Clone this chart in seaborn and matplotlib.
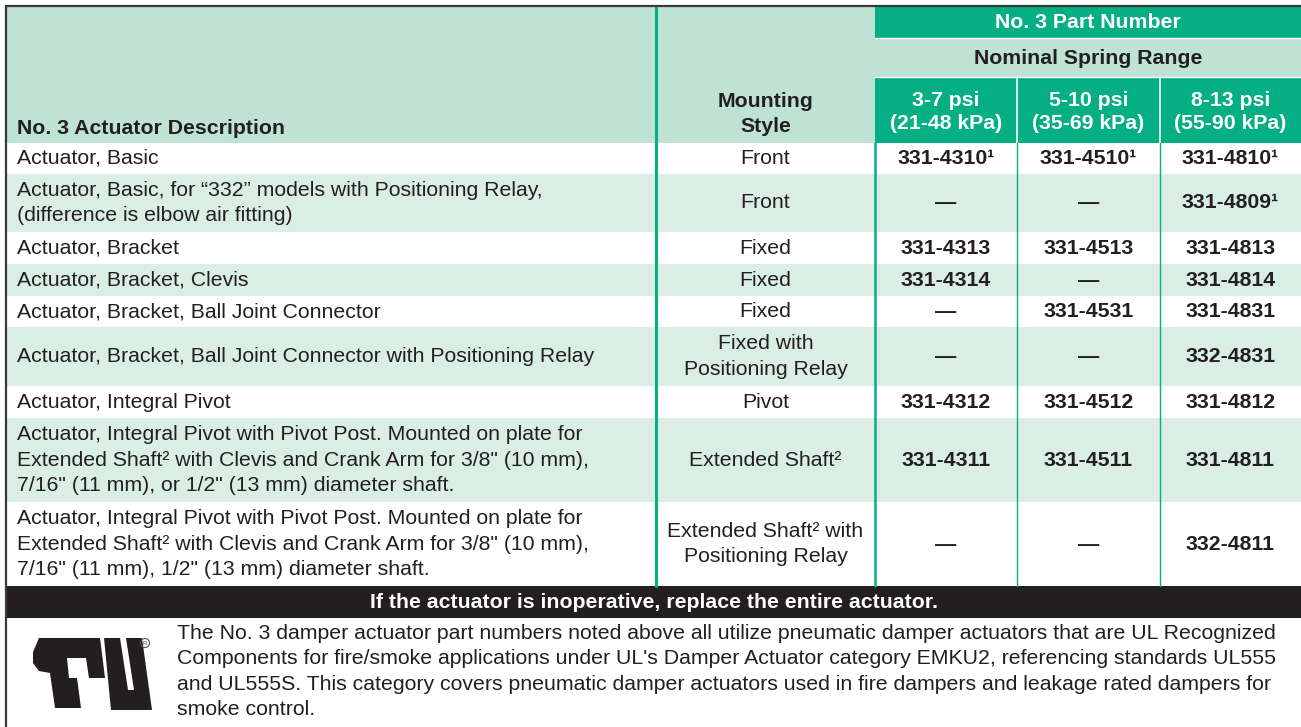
import matplotlib.pyplot as plt
import seaborn as sns
from matplotlib.patches import Rectangle, Polygon, Circle

sns.set_theme(style="white")
plt.rcParams['font.family'] = ['Liberation Sans', 'DejaVu Sans']

# table content
descriptions = [
    "Actuator, Basic",
    "Actuator, Basic, for \u201c332\u201d models with Positioning Relay,\n(difference is elbow air fitting)",
    "Actuator, Bracket",
    "Actuator, Bracket, Clevis",
    "Actuator, Bracket, Ball Joint Connector",
    "Actuator, Bracket, Ball Joint Connector with Positioning Relay",
    "Actuator, Integral Pivot",
    "Actuator, Integral Pivot with Pivot Post. Mounted on plate for\nExtended Shaft\u00b2 with Clevis and Crank Arm for 3/8\" (10 mm),\n7/16\" (11 mm), or 1/2\" (13 mm) diameter shaft.",
    "Actuator, Integral Pivot with Pivot Post. Mounted on plate for\nExtended Shaft\u00b2 with Clevis and Crank Arm for 3/8\" (10 mm),\n7/16\" (11 mm), 1/2\" (13 mm) diameter shaft.",
]
mounting = ["Front", "Front", "Fixed", "Fixed", "Fixed",
            "Fixed with\nPositioning Relay", "Pivot", "Extended Shaft\u00b2",
            "Extended Shaft\u00b2 with\nPositioning Relay"]
parts_3_7 = ["331-4310\u00b9", "\u2014", "331-4313", "331-4314", "\u2014",
             "\u2014", "331-4312", "331-4311", "\u2014"]
parts_5_10 = ["331-4510\u00b9", "\u2014", "331-4513", "\u2014", "331-4531",
              "\u2014", "331-4512", "331-4511", "\u2014"]
parts_8_13 = ["331-4810\u00b9", "331-4809\u00b9", "331-4813", "331-4814", "331-4831",
              "332-4831", "331-4812", "331-4811", "332-4811"]
spring_ranges = ["3-7 psi\n(21-48 kPa)", "5-10 psi\n(35-69 kPa)", "8-13 psi\n(55-90 kPa)"]
warning = "If the actuator is inoperative, replace the entire actuator."
footnote = ("The No. 3 damper actuator part numbers noted above all utilize pneumatic damper actuators that are UL Recognized\n"
            "Components for fire/smoke applications under UL's Damper Actuator category EMKU2, referencing standards UL555\n"
            "and UL555S. This category covers pneumatic damper actuators used in fire dampers and leakage rated dampers for\n"
            "smoke control.")

# colours and layout (pixels)
DARK_GREEN = '#05AF84'
HEAD_LIGHT = '#BEE2D4'
ROW_LIGHT = '#DAEEE5'
INK = '#231F20'
W, H = 1301, 727
left, top = 6, 6
col_edges = [left, 656, 875, 1017, 1160, W]
row_edges = [143, 174, 232, 264, 296, 327, 386, 418, 502, 586]
fs = 15.35
ls = 1.42

fig = plt.figure(figsize=(W / 100, H / 100), dpi=100)
ax = fig.add_axes([0, 0, 1, 1])
ax.set_xlim(0, W)
ax.set_ylim(H, 0)
ax.axis('off')

# header block
ax.add_patch(Rectangle((left, top), col_edges[2] - left, row_edges[0] - top, color=HEAD_LIGHT, lw=0))
ax.add_patch(Rectangle((col_edges[2], top), W - col_edges[2], 38 - top, color=DARK_GREEN, lw=0))
ax.add_patch(Rectangle((col_edges[2], 38), W - col_edges[2], 77 - 38, color=HEAD_LIGHT, lw=0))
ax.add_patch(Rectangle((col_edges[2], 77), W - col_edges[2], row_edges[0] - 77, color=DARK_GREEN, lw=0))
ax.plot([col_edges[2], W], [38, 38], color='white', lw=1)
ax.plot([col_edges[2], W], [77, 77], color='white', lw=1)
for x in col_edges[3:5]:
    ax.plot([x, x], [77, row_edges[0]], color='white', lw=1.2)

ax.text(17, 128, "No. 3 Actuator Description", fontsize=fs, fontweight='bold', color=INK,
        ha='left', va='center')
ax.text((col_edges[1] + col_edges[2]) / 2, 114, "Mounting\nStyle", fontsize=fs, fontweight='bold',
        color=INK, ha='center', va='center', linespacing=ls)
ax.text((col_edges[2] + W) / 2, 22, "No. 3 Part Number", fontsize=fs, fontweight='bold',
        color='white', ha='center', va='center')
ax.text((col_edges[2] + W) / 2, 58, "Nominal Spring Range", fontsize=fs, fontweight='bold',
        color=INK, ha='center', va='center')
for i, label in enumerate(spring_ranges):
    cx = (col_edges[2 + i] + col_edges[3 + i]) / 2
    ax.text(cx, 112, label, fontsize=fs, fontweight='bold', color='white',
            ha='center', va='center', linespacing=1.33)

# body rows
for r in range(len(descriptions)):
    y0, y1 = row_edges[r], row_edges[r + 1]
    cy = (y0 + y1) / 2
    ax.add_patch(Rectangle((left, y0), W - left, y1 - y0,
                           color=ROW_LIGHT if r % 2 else 'white', lw=0))
    ax.text(17, cy, descriptions[r], fontsize=fs, color=INK, ha='left', va='center',
            linespacing=ls)
    ax.text((col_edges[1] + col_edges[2]) / 2, cy, mounting[r], fontsize=fs, color=INK,
            ha='center', va='center', linespacing=ls)
    for i, col in enumerate([parts_3_7, parts_5_10, parts_8_13]):
        cx = (col_edges[2 + i] + col_edges[3 + i]) / 2
        ax.text(cx, cy, col[r], fontsize=fs, fontweight='bold', color=INK,
                ha='center', va='center')

# vertical rules
ax.plot([col_edges[1], col_edges[1]], [top, row_edges[-1]], color=DARK_GREEN, lw=2.2)
ax.plot([col_edges[2], col_edges[2]], [row_edges[0], row_edges[-1]], color=DARK_GREEN, lw=1.8)
for x in col_edges[3:5]:
    ax.plot([x, x], [row_edges[0], row_edges[-1]], color=DARK_GREEN, lw=1)

# warning bar
ax.add_patch(Rectangle((left, row_edges[-1]), W - left, 32, color=INK, lw=0))
ax.text((left + W) / 2, row_edges[-1] + 16, warning, fontsize=fs, fontweight='bold',
        color='white', ha='center', va='center')

# footnote
ax.text(177, 624, footnote, fontsize=fs, color=INK, ha='left', va='top', linespacing=ls)

# UL recognized mark
r_shape = [(33, 652), (39, 638), (100, 638), (105, 678), (89, 678), (86, 658),
           (67, 658), (69, 678), (77, 678), (81, 708), (55, 708), (50, 673),
           (39, 671), (33, 663)]
u_shape = [(104, 638), (120, 638), (128, 690), (134, 690), (126, 638), (142, 638),
           (152, 710), (111, 710)]
ax.add_patch(Polygon(r_shape, closed=True, color=INK, lw=0))
ax.add_patch(Polygon(u_shape, closed=True, color=INK, lw=0))
ax.add_patch(Circle((145, 643), 4.5, fill=False, ec='#555555', lw=0.8))
ax.text(145, 643.5, "R", fontsize=4.5, color='#555555', ha='center', va='center')

# outer border
ax.plot([left, W], [top, top], color='#3A3A3A', lw=1.6)
ax.plot([left, left], [top, H], color='#3A3A3A', lw=1.6)

fig.savefig('out.png', dpi=100)
